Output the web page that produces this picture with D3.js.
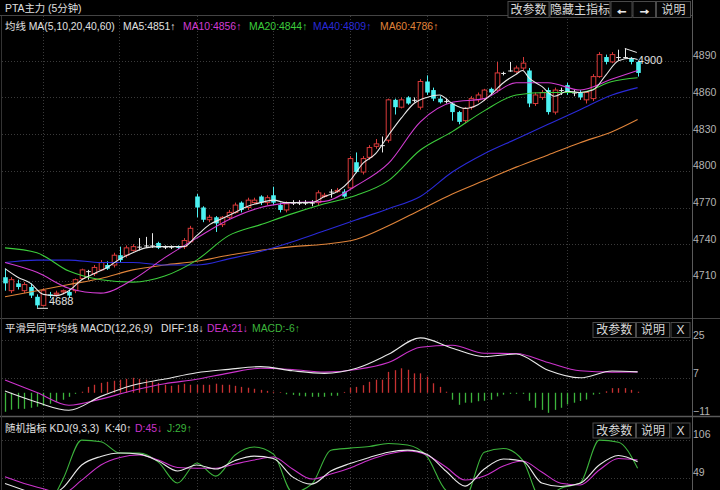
<!DOCTYPE html>
<html lang="zh">
<head>
<meta charset="utf-8">
<title>PTA主力 (5分钟)</title>
<script src="https://d3js.org/d3.v7.min.js"></script>
<style>
body {margin: 0; background: #000;}
svg text {font-family: "Liberation Sans", "Noto Sans CJK SC", sans-serif;}
</style>
</head>
<body>
<div id="chart"></div>
<script>
// ---- data ----
// candles: [open, high, low, close]
var candles = [
  [4713,4720,4702,4708],[4702,4713,4700,4711],[4708,4711,4703,4705],[4702,4709,4700,4707],[4705,4708,4696,4698],
  [4697,4699,4688,4690],[4690,4704,4689,4702],[4699,4701,4696,4698],[4699,4702,4697,4700],[4701,4703,4699,4702],
  [4701,4703,4696,4698],[4702,4712,4700,4711],[4712,4720,4711,4719],[4718,4719,4711,4718],[4716,4723,4714,4721],
  [4719,4727,4718,4725],[4723,4726,4719,4720],[4723,4733,4721,4731],[4731,4738,4725,4727],[4731,4739,4729,4737],
  [4735,4740,4734,4738],[4738,4745,4735,4738],[4739,4746,4737,4739],[4739,4749,4737,4739],[4741,4742,4736,4737],
  [4738,4739,4736,4738],[4738,4739,4736,4738],[4738,4739,4736,4737],[4738,4745,4736,4743],[4742,4755,4741,4753],
  [4779,4781,4762,4770],[4770,4771,4758,4760],[4760,4764,4758,4762],[4762,4763,4750,4757],[4756,4763,4754,4762],
  [4762,4768,4760,4766],[4766,4774,4765,4772],[4774,4775,4766,4768],[4770,4778,4768,4776],[4774,4778,4773,4776],
  [4779,4780,4772,4774],[4774,4780,4772,4778],[4780,4787,4772,4774],[4772,4774,4766,4768],[4768,4775,4766,4773],
  [4774,4776,4772,4774],[4774,4776,4772,4774],[4774,4776,4772,4774],[4774,4776,4771,4774],[4774,4784,4772,4782],
  [4779,4782,4778,4780],[4783,4785,4778,4783],[4783,4786,4782,4784],[4783,4785,4778,4779],[4786,4812,4785,4810],
  [4807,4815,4798,4799],[4799,4812,4797,4810],[4811,4821,4809,4819],[4820,4826,4818,4822],[4821,4828,4815,4821],
  [4825,4859,4823,4858],[4858,4859,4846,4852],[4852,4860,4851,4858],[4860,4861,4854,4855],[4858,4860,4856,4858],
  [4852,4875,4850,4873],[4873,4878,4862,4864],[4866,4868,4857,4859],[4859,4861,4855,4856],[4857,4859,4855,4857],
  [4855,4856,4841,4848],[4848,4849,4838,4840],[4841,4852,4839,4851],[4852,4861,4850,4859],[4858,4864,4856,4862],
  [4859,4867,4857,4866],[4867,4868,4862,4864],[4866,4889,4864,4880],[4880,4881,4878,4880],[4882,4889,4881,4882],
  [4881,4886,4880,4884],[4884,4893,4882,4888],[4882,4884,4852,4855],[4855,4864,4853,4862],[4860,4866,4858,4864],
  [4866,4868,4846,4848],[4848,4868,4846,4866],[4866,4868,4862,4866],[4870,4872,4862,4864],[4864,4866,4861,4864],
  [4864,4866,4858,4860],[4858,4865,4855,4864],[4859,4879,4857,4877],[4877,4897,4876,4895],[4893,4895,4887,4889],
  [4889,4897,4888,4895],[4893,4899,4890,4893],[4893,4900,4892,4893],[4892,4893,4887,4889],[4889,4890,4877,4880]
];

// MA5 sampled every 2 candles (it wiggles more)
var ma5Idx = [0,2,4,6,8,10,12,14,16,18,20,22,24,26,28,30,32,34,36,38,40,42,44,46,48,50,52,54,56,58,60,62,64,66,68,70,72,74,76,78,80,81,82,84,86,88,90,92,94,96,98,99];
var ma5 = [4720,4713,4708,4699,4698,4702,4711,4716,4721,4728,4733,4737,4738,4738,4738,4747,4756,4761,4766,4771,4774,4776,4774,4774,4774,4779,4783,4792,4806,4814,4829,4843,4855,4860,4862,4855,4851,4854,4862,4872,4879,4882,4876,4869,4861,4865,4864,4866,4878,4890,4892,4891];

// other moving averages sampled at these candle indexes
var maIdx = [0,5,10,15,20,25,30,35,40,45,50,55,60,65,70,75,80,85,90,95,99];
var ma10 = [4725,4717,4704,4700,4711,4729,4745,4760,4770,4774,4775,4788,4806,4840,4856,4859,4872,4872,4866,4875,4882];
var ma20 = [4737,4733,4718,4711,4709,4714,4727,4747,4756,4765,4773,4780,4792,4817,4832,4849,4862,4864,4864,4873,4876];
var ma40 = [4725,4727,4727,4725,4725,4723,4723,4728,4734,4742,4751,4760,4769,4779,4799,4814,4826,4838,4850,4862,4868];
var ma60 = [4697,4702,4707,4712,4719,4723,4726,4731,4735,4738,4740,4744,4755,4768,4781,4792,4803,4813,4823,4832,4842];

// MACD
var diffLine = [0.8,-4.5,-8.3,-1.7,3.6,6.5,9.5,11.1,12.4,10.4,9.2,11.6,18.2,26.0,21.1,17.1,18.4,10.7,7.1,10.3,9.9];
var deaLine  = [6.0,0.1,-5.9,-3.0,1.1,4.3,6.4,9.3,11.6,11.0,9.8,11.0,14.3,21.6,22.5,18.7,18.6,14.3,10.4,9.8,9.9];
var macdBar = [
  -9,-8,-7.6,-7.6,-7.1,-6.6,-6.2,-5.2,-4.3,-3.3, -1.9,-0.5,0.5,2.8,3.8,4.7,5.2,5.7,6.2,6.6,
  7.1,6.6,6.2,5.2,4.7,3.8,3.3,3.8,4.3,3.8, 3.8,3.8,3.8,4.3,3.8,3.8,3.3,2.8,2.4,1.9,
  1.4,0.9,0.5,0.3,-0.7,-1,-1.4,-1.7,-1.9,-1.9, -1.9,-1.4,-1.4,0.4,2.4,2.8,3.6,5.2,6.2,6.2,
  9.9,10.7,11.6,10.9,9.2,9.2,7.6,4.5,2.8,0.5, -3.3,-5.7,-4.7,-4.7,-4,-3.8,-3.3,-1.7,-0.9,-0.5,
  -0.5,-0.5,-3.8,-7.1,-8.1,-9.5,-8.1,-7.1,-5.5,-4.7, -3.9,-3.2,-0.9,-0.5,0.7,2.2,2.2,2.2,1.4,0.5
];

// KDJ sampled every 3 candles
var kdjIdx = [0,3,6,9,12,15,18,21,24,27,30,33,36,39,42,45,48,51,54,57,60,63,66,69,72,75,78,81,84,87,90,93,96,99];
var kLine = [40,30,20,33,67.7,80.5,85.7,84,73.7,58.7,67.7,61.7,74.5,81,77.5,50,39,58.7,70,79,87,90,84,58.7,36,61.7,76.7,73.7,40.7,35.5,40.3,67.7,82,72.7];
var dLine = [50,40,32,25,45,67.7,79,82.7,75.2,64,62.8,62.8,69.2,75.2,79.7,61.7,46.7,54.2,63.2,75.2,84.2,88.7,82.7,64.7,45.2,51.2,66.2,73.7,57.2,40.3,37.7,60.2,77.5,75.2];
var jLine = [25,10,0,45,105,102.7,85.7,85.7,72,40.7,70.7,51,82.7,94.7,84,27,39,90,93,95.5,100,97.7,81,30,20,87,92.5,75,15,33,40.7,105,102,63];

// ticks
var priceTicks = [4890,4860,4830,4800,4770,4740,4710];
var macdTicks = [25,7,-11];
var kdjTicks = [106,49];
var gridIdx = [5.9,17.9,30,42,54,66,75.4,88];

// ---- layout ----
var W = 720, H = 490, plotR = 692;
var svg = d3.select("#chart").append("svg")
  .attr("width", W).attr("height", H)
  .style("background", "#000");

var x = d3.scaleLinear().domain([0, 99]).range([5, 637.6]);
var yP = d3.scaleLinear().domain([4710, 4890]).range([280.9, 60.7]);
var yM = d3.scaleLinear().domain([-11, 25]).range([416, 340]);
var yK = d3.scaleLinear().domain([49, 106]).range([477.5, 439.5]);

var panels = [
  {id: "pMain", top: 16, bottom: 318, y: yP, ticks: priceTicks},
  {id: "pMacd", top: 318, bottom: 416, y: yM, ticks: macdTicks},
  {id: "pKdj", top: 417, bottom: 490, y: yK, ticks: kdjTicks}
];

var defs = svg.append("defs");
panels.forEach(function(p) {
  defs.append("clipPath").attr("id", p.id + "clip")
    .append("rect").attr("x", 2).attr("y", p.top).attr("width", plotR - 2).attr("height", p.bottom - p.top);
  p.g = svg.append("g").attr("clip-path", "url(#" + p.id + "clip)");
  // horizontal grid
  p.g.selectAll(".hg").data(p.ticks).enter().append("line")
    .attr("x1", 2).attr("x2", plotR)
    .attr("y1", function(d) { return Math.round(p.y(d)) + 0.5; })
    .attr("y2", function(d) { return Math.round(p.y(d)) + 0.5; })
    .attr("stroke", "#3a3a3a").attr("stroke-dasharray", "1,2");
  // vertical grid
  p.g.selectAll(".vg").data(gridIdx).enter().append("line")
    .attr("x1", function(d) { return Math.round(x(d)) + 0.5; })
    .attr("x2", function(d) { return Math.round(x(d)) + 0.5; })
    .attr("y1", p.top).attr("y2", p.bottom)
    .attr("stroke", "#3a3a3a").attr("stroke-dasharray", "1,2");
  // right axis
  var ax = svg.append("g").attr("transform", "translate(" + (plotR + 1) + ",0)")
    .call(d3.axisRight(p.y).tickValues(p.ticks).tickSize(0).tickPadding(0).tickFormat(d3.format("d")));
  ax.select(".domain").remove();
  ax.selectAll("text").attr("fill", "#b4b4b4").attr("font-size", "10.5px")
    .attr("dy", null).attr("y", -2).attr("dominant-baseline", "alphabetic");
});

// ---- candles ----
var gMain = panels[0].g;
var bw = 4.6;
var upCol = "#d83a3a", dnCol = "#4cf2f2", flatCol = "#e8e8e8";
function candleCol(d) { return d[3] > d[0] ? upCol : (d[3] < d[0] ? dnCol : flatCol); }

var cg = gMain.selectAll(".candle").data(candles).enter().append("g");
cg.append("line")
  .attr("x1", function(d, i) { return Math.round(x(i)) + 0.5; })
  .attr("x2", function(d, i) { return Math.round(x(i)) + 0.5; })
  .attr("y1", function(d) { return yP(d[1]); })
  .attr("y2", function(d) { return yP(d[2]); })
  .attr("stroke", candleCol).attr("stroke-width", 1);
cg.append("rect")
  .attr("x", function(d, i) { return Math.round(x(i)) - bw / 2 + 0.5; })
  .attr("y", function(d) { return yP(Math.max(d[0], d[3])); })
  .attr("width", bw)
  .attr("height", function(d) { return Math.max(1, Math.abs(yP(d[0]) - yP(d[3]))); })
  .attr("fill", function(d) { return d[3] > d[0] ? "#000" : candleCol(d); })
  .attr("stroke", function(d) { return d[3] > d[0] ? upCol : "none"; })
  .attr("stroke-width", 1);

// moving averages
function maLine(vals, yS, idx) {
  return d3.line()
    .x(function(d, i) { return x(idx[i]); })
    .y(function(d) { return yS(d); })
    .curve(d3.curveMonotoneX)(vals);
}
var maSeries = [
  {v: ma60, idx: maIdx, c: "#e0843a"}, {v: ma40, idx: maIdx, c: "#2a2ad8"}, {v: ma20, idx: maIdx, c: "#3ccc3c"},
  {v: ma10, idx: maIdx, c: "#d23cd2"}, {v: ma5, idx: ma5Idx, c: "#e8e8e8"}
];
maSeries.forEach(function(s) {
  gMain.append("path").attr("d", maLine(s.v, yP, s.idx))
    .attr("fill", "none").attr("stroke", s.c).attr("stroke-width", 1.1);
});

// low / high markers
var lowI = d3.minIndex(candles, function(d) { return d[2]; });
var highI = d3.maxIndex(candles, function(d) { return d[1]; });
gMain.append("line")
  .attr("x1", x(lowI)).attr("x2", x(lowI) + 11)
  .attr("y1", yP(candles[lowI][2]) + 0.5).attr("y2", yP(candles[lowI][2]) + 0.5)
  .attr("stroke", "#e8e8e8");
gMain.append("text").attr("x", x(lowI) + 12).attr("y", yP(candles[lowI][2]) - 3)
  .attr("fill", "#e0e0e0").attr("font-size", "11px").text(candles[lowI][2]);
gMain.append("line")
  .attr("x1", x(highI)).attr("x2", x(highI) + 12)
  .attr("y1", yP(candles[highI][1])).attr("y2", yP(candles[highI][1]) + 4)
  .attr("stroke", "#e8e8e8");
gMain.append("text").attr("x", x(highI) + 13).attr("y", yP(candles[highI][1]) + 16)
  .attr("fill", "#e0e0e0").attr("font-size", "11px").text(candles[highI][1]);

// ---- MACD ----
var gM = panels[1].g;
gM.selectAll(".bar").data(macdBar).enter().append("line")
  .attr("x1", function(d, i) { return Math.round(x(i)) + 0.5; })
  .attr("x2", function(d, i) { return Math.round(x(i)) + 0.5; })
  .attr("y1", yM(0))
  .attr("y2", function(d) { return yM(d); })
  .attr("stroke", function(d) { return d >= 0 ? "#c83232" : "#3cb43c"; })
  .attr("stroke-width", 1.3);
[{v: deaLine, c: "#cc33cc"}, {v: diffLine, c: "#e8e8e8"}].forEach(function(s) {
  gM.append("path").attr("d", maLine(s.v, yM, maIdx))
    .attr("fill", "none").attr("stroke", s.c).attr("stroke-width", 1.1);
});

// ---- KDJ ----
var gK = panels[2].g;
[{v: jLine, c: "#3cb43c"}, {v: dLine, c: "#cc33cc"}, {v: kLine, c: "#e8e8e8"}].forEach(function(s) {
  gK.append("path").attr("d", maLine(s.v, yK, kdjIdx))
    .attr("fill", "none").attr("stroke", s.c).attr("stroke-width", 1.1);
});

// ---- frame ----
var frame = "#5a5a5a";
svg.append("line").attr("x1", 0).attr("x2", plotR).attr("y1", 15.5).attr("y2", 15.5).attr("stroke", "#444");
svg.append("line").attr("x1", 0).attr("x2", W).attr("y1", 318.5).attr("y2", 318.5).attr("stroke", "#444");
svg.append("line").attr("x1", 0).attr("x2", W).attr("y1", 416.5).attr("y2", 416.5).attr("stroke", frame).attr("stroke-width", 1.5);
svg.append("line").attr("x1", plotR + 0.5).attr("x2", plotR + 0.5).attr("y1", 0).attr("y2", H).attr("stroke", frame);
svg.append("line").attr("x1", 1.5).attr("x2", 1.5).attr("y1", 16).attr("y2", H).attr("stroke", "#333");

// ---- header texts ----
function txt(xp, yp, s, c) {
  svg.append("text").attr("x", xp).attr("y", yp).attr("fill", c).attr("font-size", "10.4px").text(s);
}
txt(5, 12, "PTA主力 (5分钟)", "#e0e0e0");
txt(5, 30, "均线 MA(5,10,20,40,60)", "#e0e0e0");
txt(123, 30, "MA5:4851↑", "#e0e0e0");
txt(183, 30, "MA10:4856↑", "#d23cd2");
txt(249, 30, "MA20:4844↑", "#3ccc3c");
txt(313, 30, "MA40:4809↑", "#2a2ad8");
txt(380, 30, "MA60:4786↑", "#e0843a");

txt(5, 331.5, "平滑异同平均线 MACD(12,26,9)", "#e0e0e0");
txt(161, 331.5, "DIFF:18↓", "#e0e0e0");
txt(207, 331.5, "DEA:21↓", "#cc33cc");
txt(252, 331.5, "MACD:-6↑", "#3cb43c");

txt(5, 431.5, "随机指标 KDJ(9,3,3)", "#e0e0e0");
txt(105, 431.5, "K:40↑", "#e0e0e0");
txt(135, 431.5, "D:45↓", "#cc33cc");
txt(167, 431.5, "J:29↑", "#3cb43c");

// buttons
function buttons(list, y0, h) {
  list.forEach(function(b) {
    svg.append("rect").attr("x", b[0] + 0.5).attr("y", y0 + 0.5).attr("width", b[1] - b[0]).attr("height", h)
      .attr("fill", "#050505").attr("stroke", "#4a4a4a");
    var t = svg.append("text").attr("x", (b[0] + b[1]) / 2 + 0.5).attr("y", y0 + h / 2 + 4.5)
      .attr("text-anchor", "middle").attr("fill", "#d8d8d8").attr("font-size", "12px").text(b[2]);
    if (b[3]) t.attr("font-weight", "bold").attr("stroke", "#e8e8e8").attr("stroke-width", 0.9).attr("font-size", "13px");
  });
}
buttons([[507.5, 548.5, "改参数"], [549.5, 609.5, "隐藏主指标"], [610.5, 631.5, "←", 1], [632.5, 655, "→", 1], [656, 690, "说明"]], 1, 16);
buttons([[592.5, 635, "改参数"], [636, 669, "说明"], [670.5, 689.5, "X"]], 322, 15);
buttons([[592.5, 635, "改参数"], [636, 669, "说明"], [670.5, 689.5, "X"]], 422.5, 15);
</script>
</body>
</html>
